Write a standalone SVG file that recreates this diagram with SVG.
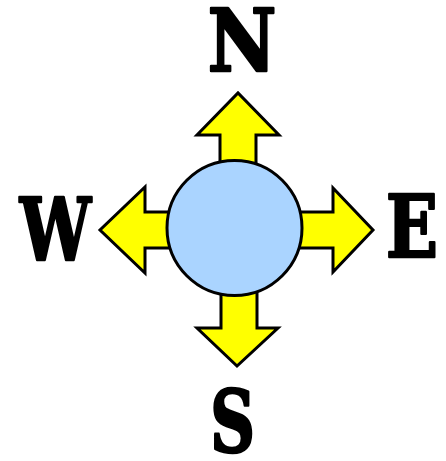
<svg xmlns="http://www.w3.org/2000/svg" width="446" height="461" viewBox="0 0 446 461">
<style>
.arrow{fill:#FFFF00;stroke:#000;stroke-width:3;stroke-linejoin:miter}
.hub{fill:#AAD4FF;stroke:#000;stroke-width:3}
.lbl{font-family:"DejaVu Serif Condensed","DejaVu Serif","Liberation Serif",serif;font-weight:bold;font-size:86px;fill:#000;stroke:#000;stroke-width:2.5;stroke-linejoin:round;text-anchor:middle}
</style>
<g id="connectors">
<polygon id="arrow-n" class="arrow" points="220,200 220,135 197,135 238,93 279,135 256,135 256,200"/>
<polygon id="arrow-s" class="arrow" points="221,260 221,328 197,328 237,366 278,328 257,328 257,260"/>
<polygon id="arrow-w" class="arrow" points="200,212 145,212 145,187 100,230 145,273 145,248 200,248"/>
<polygon id="arrow-e" class="arrow" points="270,212 333,212 333,188 373,230 333,272 333,248 270,248"/>
</g>
<g id="hub"><circle class="hub" cx="234.5" cy="228" r="67.5"/></g>
<g id="label-n"><text class="lbl" transform="translate(242,71) scale(0.97,1)">N</text></g>
<g id="label-w"><text class="lbl" transform="translate(55.5,260) scale(0.82,1)">W</text></g>
<g id="label-e"><text class="lbl" transform="translate(412,257) scale(0.88,1)">E</text></g>
<g id="label-s"><text class="lbl" transform="translate(232.5,452) scale(0.8,1)">S</text></g>
</svg>
